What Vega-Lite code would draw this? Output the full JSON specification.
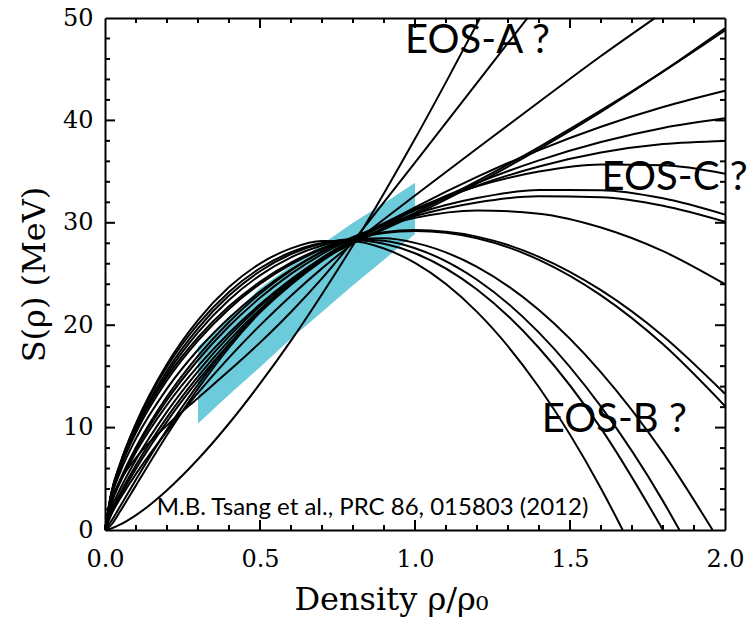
{
  "$schema": "https://vega.github.io/schema/vega-lite/v6.json",
  "width": 620,
  "height": 512,
  "autosize": "none",
  "padding": {"left": 105, "top": 18, "right": 22, "bottom": 90},
  "background": "white",
  "config": {
    "view": {"stroke": null},
    "axis": {
      "grid": false,
      "domainColor": "black",
      "domainWidth": 2,
      "labelColor": "black",
      "titleColor": "black",
      "labelFont": "DejaVu Serif",
      "titleFont": "DejaVu Serif",
      "titleFontWeight": "normal"
    }
  },
  "datasets": {
    "band": [
      {"rho": 0.3, "lo": 10.4, "hi": 17.9},
      {"rho": 0.4, "lo": 13.2, "hi": 20.7},
      {"rho": 0.5, "lo": 15.9, "hi": 23.6},
      {"rho": 0.6, "lo": 18.7, "hi": 25.8},
      {"rho": 0.7, "lo": 21.3, "hi": 27.9},
      {"rho": 0.8, "lo": 23.9, "hi": 30.0},
      {"rho": 0.9, "lo": 26.4, "hi": 31.9},
      {"rho": 1.0, "lo": 28.9, "hi": 33.9}
    ],
    "frame": [{"rho": 0, "S": 0}, {"rho": 2, "S": 50}],
    "xMajor": [{"v": 0.5}, {"v": 1.0}, {"v": 1.5}],
    "xMinor": [{"v": 0.1}, {"v": 0.2}, {"v": 0.3}, {"v": 0.4}, {"v": 0.6}, {"v": 0.7}, {"v": 0.8}, {"v": 0.9}, {"v": 1.1}, {"v": 1.2}, {"v": 1.3}, {"v": 1.4}, {"v": 1.6}, {"v": 1.7}, {"v": 1.8}, {"v": 1.9}],
    "yMajor": [{"v": 10}, {"v": 20}, {"v": 30}, {"v": 40}],
    "yMinor": [{"v": 2}, {"v": 4}, {"v": 6}, {"v": 8}, {"v": 12}, {"v": 14}, {"v": 16}, {"v": 18}, {"v": 22}, {"v": 24}, {"v": 26}, {"v": 28}, {"v": 32}, {"v": 34}, {"v": 36}, {"v": 38}, {"v": 42}, {"v": 44}, {"v": 46}, {"v": 48}],
    "eosLabels": [
      {"label": "EOS-A ?", "rho": 0.968, "S": 46.6},
      {"label": "EOS-C ?", "rho": 1.602, "S": 33.2},
      {"label": "EOS-B ?", "rho": 1.409, "S": 9.6}
    ],
    "citation": [
      {"label": "M.B. Tsang et al., PRC 86, 015803 (2012)", "rho": 0.167, "S": 1.46}
    ],
    "curves": [
      {"model":"B1","rho":0,"S":0},{"model":"B1","rho":0.02,"S":3.52},{"model":"B1","rho":0.05,"S":6.55},{"model":"B1","rho":0.1,"S":10.41},{"model":"B1","rho":0.2,"S":16.2},{"model":"B1","rho":0.3,"S":20.5},{"model":"B1","rho":0.4,"S":23.72},{"model":"B1","rho":0.5,"S":26.02},{"model":"B1","rho":0.6,"S":27.5},{"model":"B1","rho":0.7,"S":28.22},{"model":"B1","rho":0.8,"S":28.2},{"model":"B1","rho":0.9,"S":27.49},{"model":"B1","rho":1.0,"S":26.08},{"model":"B1","rho":1.2,"S":21.3},{"model":"B1","rho":1.4,"S":13.94},{"model":"B1","rho":1.6,"S":4.06},{"model":"B1","rho":1.67,"S":0},
      {"model":"B2","rho":0,"S":0},{"model":"B2","rho":0.02,"S":3.59},{"model":"B2","rho":0.05,"S":6.59},{"model":"B2","rho":0.1,"S":10.35},{"model":"B2","rho":0.2,"S":15.95},{"model":"B2","rho":0.3,"S":20.1},{"model":"B2","rho":0.4,"S":23.25},{"model":"B2","rho":0.5,"S":25.56},{"model":"B2","rho":0.6,"S":27.13},{"model":"B2","rho":0.7,"S":28.03},{"model":"B2","rho":0.8,"S":28.3},{"model":"B2","rho":0.9,"S":27.96},{"model":"B2","rho":1.0,"S":27.03},{"model":"B2","rho":1.2,"S":23.49},{"model":"B2","rho":1.4,"S":17.77},{"model":"B2","rho":1.6,"S":9.92},{"model":"B2","rho":1.8,"S":0.0},
      {"model":"B3","rho":0,"S":0},{"model":"B3","rho":0.02,"S":3.44},{"model":"B3","rho":0.05,"S":6.35},{"model":"B3","rho":0.1,"S":10.03},{"model":"B3","rho":0.2,"S":15.56},{"model":"B3","rho":0.3,"S":19.7},{"model":"B3","rho":0.4,"S":22.89},{"model":"B3","rho":0.5,"S":25.27},{"model":"B3","rho":0.6,"S":26.95},{"model":"B3","rho":0.7,"S":27.98},{"model":"B3","rho":0.8,"S":28.4},{"model":"B3","rho":0.9,"S":28.24},{"model":"B3","rho":1.0,"S":27.52},{"model":"B3","rho":1.2,"S":24.44},{"model":"B3","rho":1.4,"S":19.27},{"model":"B3","rho":1.6,"S":12.04},{"model":"B3","rho":1.8,"S":2.82},{"model":"B3","rho":1.853,"S":0},
      {"model":"B4","rho":0,"S":0},{"model":"B4","rho":0.02,"S":3.4},{"model":"B4","rho":0.05,"S":6.25},{"model":"B4","rho":0.1,"S":9.84},{"model":"B4","rho":0.2,"S":15.24},{"model":"B4","rho":0.3,"S":19.3},{"model":"B4","rho":0.4,"S":22.46},{"model":"B4","rho":0.5,"S":24.87},{"model":"B4","rho":0.6,"S":26.63},{"model":"B4","rho":0.7,"S":27.79},{"model":"B4","rho":0.8,"S":28.4},{"model":"B4","rho":0.9,"S":28.48},{"model":"B4","rho":1.0,"S":28.04},{"model":"B4","rho":1.2,"S":25.7},{"model":"B4","rho":1.4,"S":21.48},{"model":"B4","rho":1.6,"S":15.4},{"model":"B4","rho":1.8,"S":7.55},{"model":"B4","rho":1.96,"S":0},
      {"model":"B5","rho":0,"S":0},{"model":"B5","rho":0.02,"S":3.52},{"model":"B5","rho":0.05,"S":6.35},{"model":"B5","rho":0.1,"S":9.83},{"model":"B5","rho":0.2,"S":14.95},{"model":"B5","rho":0.3,"S":18.8},{"model":"B5","rho":0.4,"S":21.84},{"model":"B5","rho":0.5,"S":24.24},{"model":"B5","rho":0.6,"S":26.11},{"model":"B5","rho":0.7,"S":27.52},{"model":"B5","rho":0.8,"S":28.5},{"model":"B5","rho":0.9,"S":29.09},{"model":"B5","rho":1.0,"S":29.29},{"model":"B5","rho":1.2,"S":28.65},{"model":"B5","rho":1.4,"S":26.68},{"model":"B5","rho":1.6,"S":23.42},{"model":"B5","rho":1.8,"S":18.95},{"model":"B5","rho":2.0,"S":13.3},
      {"model":"B6","rho":0,"S":0},{"model":"B6","rho":0.02,"S":3.35},{"model":"B6","rho":0.05,"S":6.1},{"model":"B6","rho":0.1,"S":9.52},{"model":"B6","rho":0.2,"S":14.62},{"model":"B6","rho":0.3,"S":18.5},{"model":"B6","rho":0.4,"S":21.59},{"model":"B6","rho":0.5,"S":24.04},{"model":"B6","rho":0.6,"S":25.95},{"model":"B6","rho":0.7,"S":27.4},{"model":"B6","rho":0.8,"S":28.4},{"model":"B6","rho":0.9,"S":29.0},{"model":"B6","rho":1.0,"S":29.19},{"model":"B6","rho":1.2,"S":28.49},{"model":"B6","rho":1.4,"S":26.38},{"model":"B6","rho":1.6,"S":22.91},{"model":"B6","rho":1.8,"S":18.13},{"model":"B6","rho":2.0,"S":12.1},
      {"model":"B7","rho":0,"S":0},{"model":"B7","rho":0.02,"S":3.14},{"model":"B7","rho":0.05,"S":5.72},{"model":"B7","rho":0.1,"S":8.94},{"model":"B7","rho":0.2,"S":13.81},{"model":"B7","rho":0.3,"S":17.6},{"model":"B7","rho":0.4,"S":20.71},{"model":"B7","rho":0.5,"S":23.29},{"model":"B7","rho":0.6,"S":25.43},{"model":"B7","rho":0.7,"S":27.19},{"model":"B7","rho":0.8,"S":28.6},{"model":"B7","rho":0.9,"S":29.7},{"model":"B7","rho":1.0,"S":30.48},{"model":"B7","rho":1.2,"S":31.21},{"model":"B7","rho":1.4,"S":30.89},{"model":"B7","rho":1.6,"S":29.54},{"model":"B7","rho":1.8,"S":27.23},{"model":"B7","rho":2.0,"S":24.0},
      {"model":"J","rho":0,"S":0},{"model":"J","rho":0.02,"S":2.62},{"model":"J","rho":0.05,"S":4.98},{"model":"J","rho":0.1,"S":8.08},{"model":"J","rho":0.2,"S":13.02},{"model":"J","rho":0.3,"S":17.0},{"model":"J","rho":0.4,"S":20.32},{"model":"J","rho":0.5,"S":23.08},{"model":"J","rho":0.6,"S":25.36},{"model":"J","rho":0.7,"S":27.19},{"model":"J","rho":0.8,"S":28.6},{"model":"J","rho":0.9,"S":29.72},{"model":"J","rho":1.0,"S":30.66},{"model":"J","rho":1.2,"S":31.99},{"model":"J","rho":1.4,"S":32.6},{"model":"J","rho":1.6,"S":32.49},{"model":"J","rho":1.8,"S":31.66},{"model":"J","rho":2.0,"S":30.1},
      {"model":"I","rho":0,"S":0},{"model":"I","rho":0.02,"S":2.56},{"model":"I","rho":0.05,"S":4.86},{"model":"I","rho":0.1,"S":7.88},{"model":"I","rho":0.2,"S":12.69},{"model":"I","rho":0.3,"S":16.6},{"model":"I","rho":0.4,"S":19.89},{"model":"I","rho":0.5,"S":22.67},{"model":"I","rho":0.6,"S":25.01},{"model":"I","rho":0.7,"S":26.94},{"model":"I","rho":0.8,"S":28.5},{"model":"I","rho":0.9,"S":29.78},{"model":"I","rho":1.0,"S":30.86},{"model":"I","rho":1.2,"S":32.42},{"model":"I","rho":1.4,"S":33.2},{"model":"I","rho":1.6,"S":33.19},{"model":"I","rho":1.8,"S":32.39},{"model":"I","rho":2.0,"S":30.8},
      {"model":"H","rho":0,"S":0},{"model":"H","rho":0.02,"S":2.5},{"model":"H","rho":0.05,"S":4.72},{"model":"H","rho":0.1,"S":7.61},{"model":"H","rho":0.2,"S":12.22},{"model":"H","rho":0.3,"S":16.0},{"model":"H","rho":0.4,"S":19.24},{"model":"H","rho":0.5,"S":22.04},{"model":"H","rho":0.6,"S":24.48},{"model":"H","rho":0.7,"S":26.59},{"model":"H","rho":0.8,"S":28.4},{"model":"H","rho":0.9,"S":29.97},{"model":"H","rho":1.0,"S":31.36},{"model":"H","rho":1.2,"S":33.56},{"model":"H","rho":1.4,"S":35.0},{"model":"H","rho":1.6,"S":35.69},{"model":"H","rho":1.8,"S":35.62},{"model":"H","rho":2.0,"S":34.8},
      {"model":"G","rho":0,"S":0},{"model":"G","rho":0.02,"S":2.06},{"model":"G","rho":0.05,"S":4.08},{"model":"G","rho":0.1,"S":6.88},{"model":"G","rho":0.2,"S":11.56},{"model":"G","rho":0.3,"S":15.5},{"model":"G","rho":0.4,"S":18.91},{"model":"G","rho":0.5,"S":21.86},{"model":"G","rho":0.6,"S":24.38},{"model":"G","rho":0.7,"S":26.53},{"model":"G","rho":0.8,"S":28.3},{"model":"G","rho":0.9,"S":29.83},{"model":"G","rho":1.0,"S":31.22},{"model":"G","rho":1.2,"S":33.62},{"model":"G","rho":1.4,"S":35.5},{"model":"G","rho":1.6,"S":36.86},{"model":"G","rho":1.8,"S":37.69},{"model":"G","rho":2.0,"S":38.0},
      {"model":"F","rho":0,"S":0},{"model":"F","rho":0.02,"S":1.76},{"model":"F","rho":0.05,"S":3.64},{"model":"F","rho":0.1,"S":6.34},{"model":"F","rho":0.2,"S":11.0},{"model":"F","rho":0.3,"S":15.0},{"model":"F","rho":0.4,"S":18.5},{"model":"F","rho":0.5,"S":21.54},{"model":"F","rho":0.6,"S":24.16},{"model":"F","rho":0.7,"S":26.38},{"model":"F","rho":0.8,"S":28.2},{"model":"F","rho":0.9,"S":29.78},{"model":"F","rho":1.0,"S":31.26},{"model":"F","rho":1.2,"S":33.89},{"model":"F","rho":1.4,"S":36.1},{"model":"F","rho":1.6,"S":37.89},{"model":"F","rho":1.8,"S":39.26},{"model":"F","rho":2.0,"S":40.2},
      {"model":"E","rho":0,"S":0},{"model":"E","rho":0.02,"S":1.59},{"model":"E","rho":0.05,"S":3.37},{"model":"E","rho":0.1,"S":5.99},{"model":"E","rho":0.2,"S":10.59},{"model":"E","rho":0.3,"S":14.6},{"model":"E","rho":0.4,"S":18.15},{"model":"E","rho":0.5,"S":21.25},{"model":"E","rho":0.6,"S":23.95},{"model":"E","rho":0.7,"S":26.27},{"model":"E","rho":0.8,"S":28.2},{"model":"E","rho":0.9,"S":29.9},{"model":"E","rho":1.0,"S":31.51},{"model":"E","rho":1.2,"S":34.48},{"model":"E","rho":1.4,"S":37.1},{"model":"E","rho":1.6,"S":39.38},{"model":"E","rho":1.8,"S":41.31},{"model":"E","rho":2.0,"S":42.9},
      {"model":"D1","rho":0,"S":0},{"model":"D1","rho":0.02,"S":0.85},{"model":"D1","rho":0.05,"S":2.37},{"model":"D1","rho":0.1,"S":4.93},{"model":"D1","rho":0.2,"S":9.8},{"model":"D1","rho":0.3,"S":14.2},{"model":"D1","rho":0.4,"S":18.09},{"model":"D1","rho":0.5,"S":21.43},{"model":"D1","rho":0.6,"S":24.21},{"model":"D1","rho":0.7,"S":26.44},{"model":"D1","rho":0.8,"S":28.1},{"model":"D1","rho":0.9,"S":29.5},{"model":"D1","rho":1.0,"S":30.97},{"model":"D1","rho":1.2,"S":34.07},{"model":"D1","rho":1.4,"S":37.4},{"model":"D1","rho":1.6,"S":40.97},{"model":"D1","rho":1.8,"S":44.77},{"model":"D1","rho":2.0,"S":48.8},
      {"model":"D2","rho":0,"S":0},{"model":"D2","rho":0.02,"S":0.5},{"model":"D2","rho":0.05,"S":1.88},{"model":"D2","rho":0.1,"S":4.36},{"model":"D2","rho":0.2,"S":9.27},{"model":"D2","rho":0.3,"S":13.8},{"model":"D2","rho":0.4,"S":17.82},{"model":"D2","rho":0.5,"S":21.26},{"model":"D2","rho":0.6,"S":24.12},{"model":"D2","rho":0.7,"S":26.37},{"model":"D2","rho":0.8,"S":28.0},{"model":"D2","rho":0.9,"S":29.35},{"model":"D2","rho":1.0,"S":30.78},{"model":"D2","rho":1.2,"S":33.84},{"model":"D2","rho":1.4,"S":37.2},{"model":"D2","rho":1.6,"S":40.84},{"model":"D2","rho":1.8,"S":44.78},{"model":"D2","rho":2.0,"S":49.0},
      {"model":"A3","rho":0,"S":0},{"model":"A3","rho":0.02,"S":1.49},{"model":"A3","rho":0.05,"S":3.12},{"model":"A3","rho":0.1,"S":5.48},{"model":"A3","rho":0.2,"S":9.66},{"model":"A3","rho":0.3,"S":13.4},{"model":"A3","rho":0.4,"S":16.83},{"model":"A3","rho":0.5,"S":19.98},{"model":"A3","rho":0.6,"S":22.88},{"model":"A3","rho":0.7,"S":25.55},{"model":"A3","rho":0.8,"S":28.0},{"model":"A3","rho":0.9,"S":30.34},{"model":"A3","rho":1.0,"S":32.66},{"model":"A3","rho":1.2,"S":37.26},{"model":"A3","rho":1.4,"S":41.8},{"model":"A3","rho":1.6,"S":46.29},{"model":"A3","rho":1.774,"S":50},
      {"model":"A2","rho":0,"S":0},{"model":"A2","rho":0.02,"S":2.87},{"model":"A2","rho":0.05,"S":4.85},{"model":"A2","rho":0.1,"S":7.05},{"model":"A2","rho":0.2,"S":10.22},{"model":"A2","rho":0.3,"S":12.9},{"model":"A2","rho":0.4,"S":15.54},{"model":"A2","rho":0.5,"S":18.3},{"model":"A2","rho":0.6,"S":21.29},{"model":"A2","rho":0.7,"S":24.57},{"model":"A2","rho":0.8,"S":28.2},{"model":"A2","rho":0.9,"S":32.02},{"model":"A2","rho":1.0,"S":35.87},{"model":"A2","rho":1.2,"S":43.67},{"model":"A2","rho":1.363,"S":50},
      {"model":"A1","rho":0,"S":0},{"model":"A1","rho":0.02,"S":0.15},{"model":"A1","rho":0.05,"S":0.54},{"model":"A1","rho":0.1,"S":1.45},{"model":"A1","rho":0.2,"S":3.89},{"model":"A1","rho":0.3,"S":6.91},{"model":"A1","rho":0.4,"S":10.4},{"model":"A1","rho":0.5,"S":14.29},{"model":"A1","rho":0.6,"S":18.49},{"model":"A1","rho":0.7,"S":23.03},{"model":"A1","rho":0.8,"S":27.81},{"model":"A1","rho":0.9,"S":32.89},{"model":"A1","rho":1.0,"S":38.2},{"model":"A1","rho":1.1,"S":43.74},{"model":"A1","rho":1.21,"S":50}
    ]
  },
  "resolve": {"axis": {"x": "independent", "y": "independent"}},
  "layer": [
    {
      "data": {"name": "band"},
      "mark": {"type": "area", "color": "#6ccbdb", "opacity": 1},
      "encoding": {
        "x": {
          "field": "rho", "type": "quantitative",
          "scale": {"domain": [0, 2], "nice": false, "zero": false},
          "axis": {
            "orient": "bottom", "values": [0, 0.5, 1, 1.5, 2], "format": ".1f",
            "ticks": false, "labelFontSize": 24, "labelPadding": 17, "labelFlush": false, "labelOverlap": false,
            "title": "Density ρ/ρ₀", "titleFontSize": 32,
            "titleX": 286, "titleY": 79, "titleBaseline": "alphabetic", "titleAlign": "center"
          }
        },
        "y": {
          "field": "lo", "type": "quantitative",
          "scale": {"domain": [0, 50], "nice": false},
          "axis": {
            "orient": "left", "values": [0, 10, 20, 30, 40, 50],
            "ticks": false, "labelFontSize": 24, "labelPadding": 12, "labelFlush": false, "labelOverlap": false,
            "title": "S(ρ) (MeV)", "titleFontSize": 32, "titleAngle": 270,
            "titleX": -61, "titleY": 256, "titleBaseline": "alphabetic", "titleAlign": "center"
          }
        },
        "y2": {"field": "hi"}
      }
    },
    {
      "data": {"name": "frame"},
      "mark": {"type": "point", "opacity": 0},
      "encoding": {
        "x": {
          "field": "rho", "type": "quantitative",
          "scale": {"domain": [0, 2], "nice": false, "zero": false},
          "axis": {"orient": "top", "ticks": false, "labels": false, "title": null}
        },
        "y": {
          "field": "S", "type": "quantitative",
          "scale": {"domain": [0, 50], "nice": false},
          "axis": {"orient": "right", "ticks": false, "labels": false, "title": null}
        }
      }
    },
    {
      "data": {"name": "xMajor"},
      "mark": {"type": "rule", "color": "black", "strokeWidth": 2},
      "encoding": {"x": {"field": "v", "type": "quantitative", "axis": null}, "y": {"datum": 0, "type": "quantitative", "axis": null}, "y2": {"datum": 0.98}}
    },
    {
      "data": {"name": "xMajor"},
      "mark": {"type": "rule", "color": "black", "strokeWidth": 2},
      "encoding": {"x": {"field": "v", "type": "quantitative", "axis": null}, "y": {"datum": 50, "type": "quantitative", "axis": null}, "y2": {"datum": 49.02}}
    },
    {
      "data": {"name": "xMinor"},
      "mark": {"type": "rule", "color": "black", "strokeWidth": 2},
      "encoding": {"x": {"field": "v", "type": "quantitative", "axis": null}, "y": {"datum": 0, "type": "quantitative", "axis": null}, "y2": {"datum": 0.49}}
    },
    {
      "data": {"name": "xMinor"},
      "mark": {"type": "rule", "color": "black", "strokeWidth": 2},
      "encoding": {"x": {"field": "v", "type": "quantitative", "axis": null}, "y": {"datum": 50, "type": "quantitative", "axis": null}, "y2": {"datum": 49.51}}
    },
    {
      "data": {"name": "yMajor"},
      "mark": {"type": "rule", "color": "black", "strokeWidth": 2},
      "encoding": {"y": {"field": "v", "type": "quantitative", "axis": null}, "x": {"datum": 0, "type": "quantitative", "axis": null}, "x2": {"datum": 0.0323}}
    },
    {
      "data": {"name": "yMajor"},
      "mark": {"type": "rule", "color": "black", "strokeWidth": 2},
      "encoding": {"y": {"field": "v", "type": "quantitative", "axis": null}, "x": {"datum": 2, "type": "quantitative", "axis": null}, "x2": {"datum": 1.9677}}
    },
    {
      "data": {"name": "yMinor"},
      "mark": {"type": "rule", "color": "black", "strokeWidth": 2},
      "encoding": {"y": {"field": "v", "type": "quantitative", "axis": null}, "x": {"datum": 0, "type": "quantitative", "axis": null}, "x2": {"datum": 0.0161}}
    },
    {
      "data": {"name": "yMinor"},
      "mark": {"type": "rule", "color": "black", "strokeWidth": 2},
      "encoding": {"y": {"field": "v", "type": "quantitative", "axis": null}, "x": {"datum": 2, "type": "quantitative", "axis": null}, "x2": {"datum": 1.9839}}
    },
    {
      "data": {"name": "curves"},
      "mark": {"type": "line", "color": "black", "strokeWidth": 2, "interpolate": "monotone"},
      "encoding": {
        "x": {"field": "rho", "type": "quantitative", "axis": null},
        "y": {"field": "S", "type": "quantitative", "axis": null},
        "detail": {"field": "model"}
      }
    },
    {
      "data": {"name": "eosLabels"},
      "mark": {"type": "text", "align": "left", "baseline": "alphabetic", "font": "Lato", "fontSize": 40, "color": "black"},
      "encoding": {
        "x": {"field": "rho", "type": "quantitative", "axis": null},
        "y": {"field": "S", "type": "quantitative", "axis": null},
        "text": {"field": "label"}
      }
    },
    {
      "data": {"name": "citation"},
      "mark": {"type": "text", "align": "left", "baseline": "alphabetic", "font": "Lato", "fontSize": 24, "color": "black"},
      "encoding": {
        "x": {"field": "rho", "type": "quantitative", "axis": null},
        "y": {"field": "S", "type": "quantitative", "axis": null},
        "text": {"field": "label"}
      }
    }
  ]
}
